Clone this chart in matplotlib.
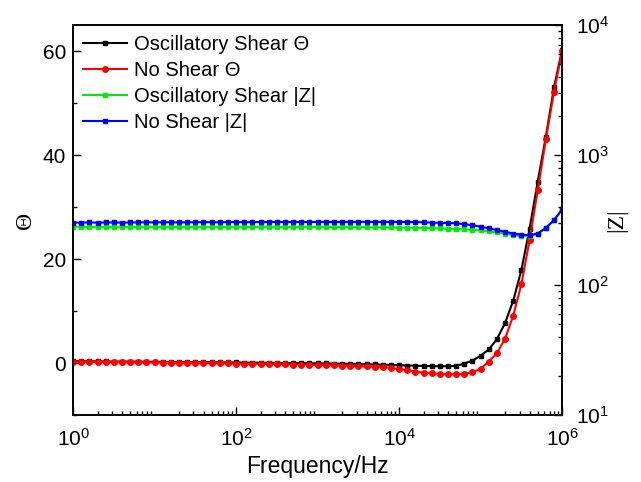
import numpy as np
import matplotlib
matplotlib.use('Agg')
import matplotlib.pyplot as plt
from matplotlib.ticker import MultipleLocator, LogLocator

plt.rcParams['font.family'] = ['Liberation Sans', 'DejaVu Sans']
plt.rcParams['mathtext.fontset'] = 'custom'
plt.rcParams['mathtext.rm'] = 'Liberation Sans'
plt.rcParams['mathtext.it'] = 'Liberation Sans:italic'

# frequency exponents, 10 points per decade from 10^0 to 10^6
log_freq = [0.0, 0.1, 0.2, 0.3, 0.4, 0.5, 0.6, 0.7, 0.8, 0.9,
            1.0, 1.1, 1.2, 1.3, 1.4, 1.5, 1.6, 1.7, 1.8, 1.9,
            2.0, 2.1, 2.2, 2.3, 2.4, 2.5, 2.6, 2.7, 2.8, 2.9,
            3.0, 3.1, 3.2, 3.3, 3.4, 3.5, 3.6, 3.7, 3.8, 3.9,
            4.0, 4.1, 4.2, 4.3, 4.4, 4.5, 4.6, 4.7, 4.8, 4.9,
            5.0, 5.1, 5.2, 5.3, 5.4, 5.5, 5.6, 5.7, 5.8, 5.9, 6.0]

theta_osc = [0.35, 0.33, 0.34, 0.31, 0.30, 0.29, 0.28, 0.27, 0.26, 0.24,
             0.23, 0.22, 0.20, 0.19, 0.18, 0.16, 0.15, 0.14, 0.12, 0.11,
             0.10, 0.08, 0.07, 0.05, 0.04, 0.02, 0.01, -0.01, -0.03, -0.05,
             -0.07, -0.09, -0.11, -0.14, -0.17, -0.20, -0.24, -0.28, -0.33, -0.38,
             -0.43, -0.48, -0.53, -0.57, -0.60, -0.62, -0.62, -0.55, -0.1, 0.46,
             1.4, 2.6, 4.6, 7.7, 12.0, 17.9, 25.8, 34.9, 43.5, 53.0, 60.3]

theta_no = [0.25, 0.24, 0.22, 0.21, 0.20, 0.18, 0.17, 0.15, 0.14, 0.12,
            0.10, 0.08, 0.06, 0.04, 0.02, 0.0, -0.02, -0.04, -0.06, -0.08,
            -0.10, -0.13, -0.15, -0.18, -0.20, -0.23, -0.26, -0.29, -0.32, -0.35,
            -0.38, -0.42, -0.46, -0.50, -0.55, -0.60, -0.66, -0.72, -0.80, -0.95,
            -1.15, -1.40, -1.65, -1.85, -2.0, -2.1, -2.15, -2.15, -2.05, -1.8,
            -1.06, 0.27, 1.9, 4.7, 9.1, 15.2, 23.6, 33.2, 43.0, 52.2, 60.0]

z_osc = [281, 281, 280, 281, 280, 280, 281, 280, 280, 281,
         280, 281, 280, 280, 281, 280, 280, 281, 280, 280,
         281, 280, 280, 280, 281, 280, 280, 280, 281, 280,
         280, 280, 279, 280, 279, 279, 279, 278, 278, 278,
         277, 277, 276, 275, 274, 273, 271, 270, 268, 266,
         264, 259, 254, 248, 243, 238, 239, 247, 274, 315, 382]

z_no = [302, 302, 303, 302, 303, 303, 302, 303, 303, 304,
        303, 304, 304, 303, 304, 304, 305, 304, 304, 305,
        305, 304, 305, 305, 305, 306, 305, 305, 306, 305,
        306, 306, 305, 306, 306, 306, 306, 306, 306, 306,
        306, 305, 305, 304, 302, 301, 300, 299, 294, 288,
        281, 273, 265, 257, 249, 244, 242, 249, 276, 316, 382]

freq = [10 ** v for v in log_freq]

fig = plt.figure(figsize=(6.41, 4.82), dpi=100)
ax = fig.add_axes([0.114, 0.139, 0.763, 0.809])
ax2 = ax.twinx()

l1, = ax.plot(freq, theta_osc, color='black', marker='s', markersize=3.5, lw=1.5,
              label='Oscillatory Shear \u0398')
l2, = ax.plot(freq, theta_no, color='red', marker='o', markersize=4, lw=1.5,
              label='No Shear \u0398')
l3, = ax2.plot(freq, z_osc, color='#00ee00', marker='s', markersize=3.5, lw=1.5,
               label='Oscillatory Shear |Z|')
l4, = ax2.plot(freq, z_no, color='blue', marker='s', markersize=3.5, lw=1.5,
               label='No Shear |Z|')

ax.set_xscale('log')
ax.set_xlim(1, 1e6)
ax.set_ylim(-10, 65)
ax.yaxis.set_major_locator(MultipleLocator(20))
ax.yaxis.set_minor_locator(MultipleLocator(10))
ax.set_xticks([1, 1e2, 1e4, 1e6])
ax.xaxis.set_minor_locator(LogLocator(base=10, subs=np.arange(2, 10), numticks=20))

ax2.set_yscale('log')
ax2.set_ylim(10, 1e4)

for a in (ax, ax2):
    a.tick_params(which='both', direction='in', labelsize=15, top=False)
    a.tick_params(which='major', length=6, width=1)
    a.tick_params(which='minor', length=3, width=1)
    for s in a.spines.values():
        s.set_linewidth(1.2)
ax.tick_params(axis='y', right=False, pad=5)
ax.tick_params(axis='x', pad=9)
ax2.tick_params(axis='y', pad=10)

ax.set_xlabel('Frequency/Hz', fontsize=16.5, labelpad=4)
ax.set_ylabel('\u0398', fontsize=17, labelpad=5, family=['Liberation Serif', 'DejaVu Serif'])
ax2.set_ylabel('|Z|', fontsize=17, labelpad=-2, family=['Liberation Serif', 'DejaVu Serif'])

ax2.legend(handles=[l1, l2, l3, l4], loc='upper left', frameon=False,
           fontsize=14.5, handlelength=2.2, labelspacing=0.35,
           borderaxespad=0.1, handletextpad=0.35, borderpad=0.4)

fig.savefig('out.png', dpi=100)
